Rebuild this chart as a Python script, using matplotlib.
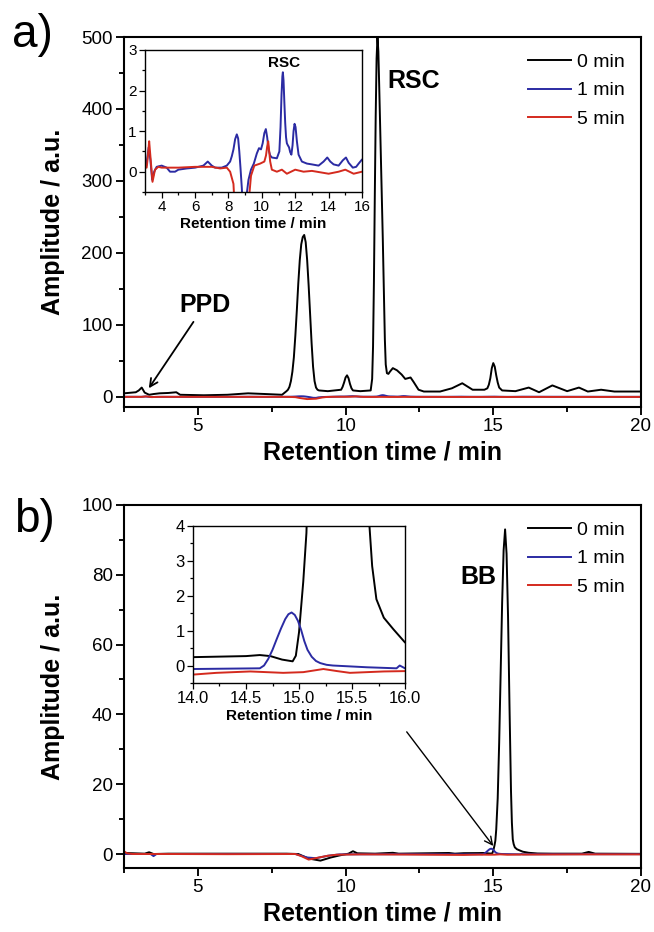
import matplotlib
matplotlib.use('Agg')
import matplotlib.pyplot as plt
import numpy as np
from matplotlib.ticker import MultipleLocator, FormatStrFormatter

plt.rcParams['font.family'] = ['Liberation Sans', 'DejaVu Sans']

# --- a) chromatograms: (retention time / min, amplitude / a.u.)
a_0min = [(2.5, 5), (2.9, 6.5), (3.0, 9), (3.1, 13), (3.2, 6), (3.35, 3), (3.5, 4), (3.7, 5), (4.0, 5.5),
          (4.27, 6.5), (4.4, 3), (5.2, 2.3), (6.0, 3), (6.7, 5), (7.3, 4), (7.85, 3), (8.0, 8), (8.05, 10),
          (8.1, 14), (8.15, 22), (8.2, 35), (8.25, 55), (8.3, 85), (8.35, 120), (8.4, 158), (8.45, 190),
          (8.5, 212), (8.55, 222), (8.6, 225), (8.65, 215), (8.7, 190), (8.75, 155), (8.8, 115), (8.85, 75),
          (8.9, 42), (8.95, 22), (9.0, 13), (9.05, 10), (9.1, 9), (9.4, 8), (9.85, 10), (9.9, 14), (9.95, 20),
          (10.0, 27), (10.05, 30), (10.1, 26), (10.15, 18), (10.2, 12), (10.25, 9), (10.5, 8), (10.85, 9),
          (10.9, 25), (10.93, 70), (10.96, 160), (10.99, 280), (11.02, 390), (11.05, 470), (11.08, 500),
          (11.11, 480), (11.14, 430), (11.18, 360), (11.22, 290), (11.26, 220), (11.3, 140), (11.33, 80),
          (11.36, 45), (11.4, 33), (11.45, 32), (11.5, 35), (11.6, 40), (11.74, 37), (11.9, 31), (12.02, 25),
          (12.2, 27), (12.3, 21), (12.47, 10), (12.65, 7.5), (13.2, 7.5), (13.6, 12), (13.95, 19), (14.3, 10),
          (14.7, 10), (14.8, 12), (14.85, 17), (14.9, 26), (14.95, 40), (15.0, 47), (15.05, 42), (15.1, 30),
          (15.15, 20), (15.2, 13), (15.3, 9), (15.75, 8), (16.2, 13), (16.55, 6.5), (17.0, 16), (17.5, 8),
          (17.9, 13), (18.2, 7.5), (18.65, 10), (19.1, 7.5), (20.0, 7.5)]

a_1min = [(2.5, 0.2), (2.9, 0.2), (3.08, 0.15), (3.22, 0.6), (3.32, 0.3), (3.43, -0.2), (3.55, 0.0), (3.7, 0.12),
          (4.0, 0.15), (4.3, 0.1), (4.5, 0.0), (4.8, 0.0), (5.0, 0.05), (5.5, 0.08), (6.0, 0.1), (6.5, 0.15),
          (6.76, 0.25), (7.0, 0.15), (7.2, 0.1), (7.6, 0.1), (7.9, 0.15), (8.1, 0.25), (8.2, 0.38), (8.3, 0.55),
          (8.4, 0.8), (8.5, 0.92), (8.58, 0.82), (8.65, 0.5), (8.72, 0.1), (8.8, -0.4), (8.9, -1.2), (9.0, -1.3),
          (9.08, -0.6), (9.2, -0.2), (9.35, 0.05), (9.52, 0.2), (9.7, 0.45), (9.83, 0.58), (9.95, 0.55),
          (10.05, 0.7), (10.15, 0.95), (10.24, 1.05), (10.32, 0.85), (10.4, 0.55), (10.5, 0.4), (10.6, 0.35),
          (10.9, 0.33), (11.05, 0.5), (11.12, 1.1), (11.18, 1.9), (11.23, 2.35), (11.26, 2.45), (11.3, 2.25),
          (11.35, 1.7), (11.4, 1.2), (11.45, 0.85), (11.5, 0.7), (11.56, 0.65), (11.63, 0.6), (11.7, 0.48),
          (11.77, 0.42), (11.84, 0.65), (11.9, 1.0), (11.96, 1.18), (12.02, 1.1), (12.1, 0.75), (12.2, 0.42),
          (12.4, 0.25), (12.7, 0.2), (13.0, 0.18), (13.4, 0.15), (13.7, 0.25), (13.92, 0.35), (14.1, 0.25),
          (14.3, 0.18), (14.6, 0.15), (14.85, 0.28), (15.04, 0.35), (15.2, 0.22), (15.45, 0.1), (15.65, 0.12),
          (15.8, 0.2), (16.0, 0.3), (16.5, 0.25), (17.0, 0.2), (18.0, 0.2), (19.0, 0.15), (20.0, 0.15)]

a_5min = [(2.5, 0.1), (2.9, 0.1), (3.1, 0.1), (3.18, 0.4), (3.25, 0.75), (3.3, 0.5), (3.35, 0.25), (3.45, -0.25),
          (3.6, 0.05), (3.8, 0.12), (4.0, 0.1), (5.0, 0.1), (6.0, 0.12), (7.0, 0.12), (7.5, 0.08), (7.9, 0.1),
          (8.1, 0.0), (8.3, -0.3), (8.45, -1.5), (8.7, -3.0), (9.0, -2.5), (9.2, -0.8), (9.35, -0.1),
          (9.55, 0.15), (9.9, 0.2), (10.15, 0.25), (10.25, 0.4), (10.32, 0.62), (10.38, 0.75), (10.43, 0.55),
          (10.5, 0.25), (10.6, 0.05), (10.9, 0.0), (11.2, 0.05), (11.5, -0.05), (12.0, 0.05), (12.5, 0.0),
          (13.0, 0.02), (14.0, -0.05), (14.6, 0.0), (15.0, 0.05), (15.5, -0.05), (16.0, 0.0), (17.0, 0.0),
          (18.0, -0.02), (20.0, 0.0)]

# --- b) chromatograms
b_0min = [(2.5, 0.3), (3.2, 0.1), (3.35, 0.5), (3.5, 0.0), (4.0, 0.1), (6.0, 0.1), (8.0, 0.1), (8.4, 0.0),
          (8.75, -1.3), (9.15, -1.9), (9.5, -1.0), (9.8, -0.4), (10.1, 0.1), (10.25, 0.8), (10.4, 0.2),
          (11.0, 0.1), (11.6, 0.35), (11.8, 0.1), (13.5, 0.3), (13.7, 0.1), (14.0, 0.24), (14.5, 0.27),
          (14.63, 0.3), (14.73, 0.27), (14.84, 0.17), (14.94, 0.12), (14.97, 0.28), (15.0, 0.95), (15.04, 2.4),
          (15.07, 3.8), (15.1, 7), (15.15, 16), (15.2, 32), (15.25, 52), (15.3, 72), (15.35, 87), (15.4, 93),
          (15.45, 86), (15.5, 68), (15.55, 42), (15.6, 18), (15.63, 9), (15.66, 4.2), (15.69, 2.85),
          (15.73, 1.9), (15.8, 1.37), (15.89, 1.04), (16.0, 0.66), (16.2, 0.35), (16.5, 0.15), (17.0, 0.1),
          (18.0, 0.1), (18.23, 0.6), (18.45, 0.1), (20.0, 0.05)]

b_1min = [(2.5, 0.0), (3.4, 0.0), (3.5, -0.6), (3.6, 0.0), (5.0, 0.0), (8.3, 0.0), (8.7, -1.0), (9.0, -1.2),
          (9.4, -0.5), (9.8, -0.1), (12.0, -0.05), (14.0, -0.1), (14.63, -0.08), (14.67, 0.0), (14.71, 0.19),
          (14.75, 0.45), (14.79, 0.76), (14.83, 1.06), (14.87, 1.33), (14.9, 1.47), (14.93, 1.52),
          (14.96, 1.45), (14.99, 1.28), (15.02, 1.02), (15.05, 0.7), (15.08, 0.45), (15.12, 0.25),
          (15.16, 0.13), (15.2, 0.07), (15.26, 0.02), (15.32, 0.0), (15.64, -0.05), (15.92, -0.08),
          (15.95, 0.0), (16.0, -0.08), (17.0, -0.05), (20.0, -0.05)]

b_5min = [(2.5, 0.8), (2.6, 0.2), (2.8, 0.0), (4.0, 0.0), (6.0, -0.05), (8.3, 0.0), (8.5, -0.6), (8.75, -1.6),
          (9.1, -1.0), (9.4, -0.5), (9.7, -0.2), (10.5, -0.1), (12.0, -0.15), (14.0, -0.26), (14.22, -0.21),
          (14.54, -0.17), (14.85, -0.21), (15.04, -0.19), (15.23, -0.1), (15.36, -0.16), (15.48, -0.21),
          (15.8, -0.17), (16.0, -0.16), (18.0, -0.1), (20.0, -0.1)]

labels = ['0 min', '1 min', '5 min']
colors = ['black', '#2b2ba3', '#d42a1e']


def style(ax, size, lw=1.5, maj=6, mino=3.5):
    for s in ax.spines.values():
        s.set_linewidth(lw)
    ax.tick_params(which='both', direction='out', width=lw * 0.9, labelsize=size, pad=2)
    ax.tick_params(which='major', length=maj)
    ax.tick_params(which='minor', length=mino)


def draw(ax, series, cols, lw=1.4):
    for data, c, lab in zip(series, cols, labels[-len(series):] if len(series) < 3 else labels):
        t, v = np.array(data).T
        ax.plot(t, v, color=c, lw=lw, label=lab)


leg_kw = dict(loc='upper right', frameon=False, fontsize=14, handlelength=2.2, handletextpad=0.3,
              labelspacing=0.55, borderaxespad=0.45, borderpad=0.4)

fig = plt.figure(figsize=(6.54, 9.32), dpi=100)

# panel a
ax1 = fig.add_axes([0.1896, 0.5633, 0.7905, 0.397])
draw(ax1, [a_0min, a_1min, a_5min], colors)
ax1.set_xlim(2.5, 20)
ax1.set_ylim(-14, 500)
ax1.xaxis.set_major_locator(MultipleLocator(5))
ax1.xaxis.set_minor_locator(MultipleLocator(2.5))
ax1.yaxis.set_major_locator(MultipleLocator(100))
ax1.yaxis.set_minor_locator(MultipleLocator(50))
style(ax1, 13.5)
ax1.set_xlabel('Retention time / min', fontsize=18, fontweight='bold', labelpad=4)
ax1.set_ylabel('Amplitude / a.u.', fontsize=18, fontweight='bold', labelpad=12)
ax1.legend(**leg_kw)
ax1.text(12.31, 439, 'RSC', fontsize=18, fontweight='bold', ha='center', va='center')
ax1.annotate('PPD', xy=(3.34, 12), xytext=(5.24, 128), fontsize=18, fontweight='bold',
             ha='center', va='center',
             arrowprops=dict(arrowstyle='->', lw=1.3, color='black', mutation_scale=14, shrinkA=2, shrinkB=0))
fig.text(0.05, 0.962, 'a)', fontsize=33, ha='center', va='center')

# inset a: only the 1 min and 5 min traces
ins1 = fig.add_axes([0.2217, 0.794, 0.3318, 0.1524])
draw(ins1, [a_1min, a_5min], colors[1:])
ins1.set_xlim(3, 16)
ins1.set_ylim(-0.5, 3)
ins1.xaxis.set_major_locator(MultipleLocator(2))
ins1.xaxis.set_minor_locator(MultipleLocator(1))
ins1.yaxis.set_major_locator(MultipleLocator(1))
ins1.yaxis.set_minor_locator(MultipleLocator(0.5))
style(ins1, 11, lw=1.0, maj=4, mino=2.5)
ins1.set_xlabel('Retention time / min', fontsize=11, fontweight='bold', labelpad=2)
ins1.text(11.32, 2.69, 'RSC', fontsize=11, fontweight='bold', ha='center', va='center')

# panel b
ax2 = fig.add_axes([0.1896, 0.0687, 0.7905, 0.3895])
draw(ax2, [b_0min, b_1min, b_5min], colors)
ax2.set_xlim(2.5, 20)
ax2.set_ylim(-4, 100)
ax2.xaxis.set_major_locator(MultipleLocator(5))
ax2.xaxis.set_minor_locator(MultipleLocator(2.5))
ax2.yaxis.set_major_locator(MultipleLocator(20))
ax2.yaxis.set_minor_locator(MultipleLocator(10))
style(ax2, 13.5)
ax2.set_xlabel('Retention time / min', fontsize=18, fontweight='bold', labelpad=4)
ax2.set_ylabel('Amplitude / a.u.', fontsize=18, fontweight='bold', labelpad=12)
ax2.legend(**leg_kw)
ax2.text(14.5, 79.4, 'BB', fontsize=18, fontweight='bold', ha='center', va='center')
ax2.annotate('', xy=(15.0, 2.3), xytext=(12.07, 35),
             arrowprops=dict(arrowstyle='->', lw=1.0, color='black', mutation_scale=14, shrinkA=0, shrinkB=0))
fig.text(0.052, 0.442, 'b)', fontsize=33, ha='center', va='center')

# inset b
ins2 = fig.add_axes([0.2951, 0.2672, 0.3242, 0.1685])
draw(ins2, [b_0min, b_1min, b_5min], colors)
ins2.set_xlim(14, 16)
ins2.set_ylim(-0.5, 4)
ins2.xaxis.set_major_locator(MultipleLocator(0.5))
ins2.xaxis.set_minor_locator(MultipleLocator(0.25))
ins2.xaxis.set_major_formatter(FormatStrFormatter('%.1f'))
ins2.yaxis.set_major_locator(MultipleLocator(1))
ins2.yaxis.set_minor_locator(MultipleLocator(0.5))
style(ins2, 12, lw=1.0, maj=4, mino=2.5)
ins2.set_xlabel('Retention time / min', fontsize=11, fontweight='bold', labelpad=2)

fig.savefig('out.png', dpi=100)
